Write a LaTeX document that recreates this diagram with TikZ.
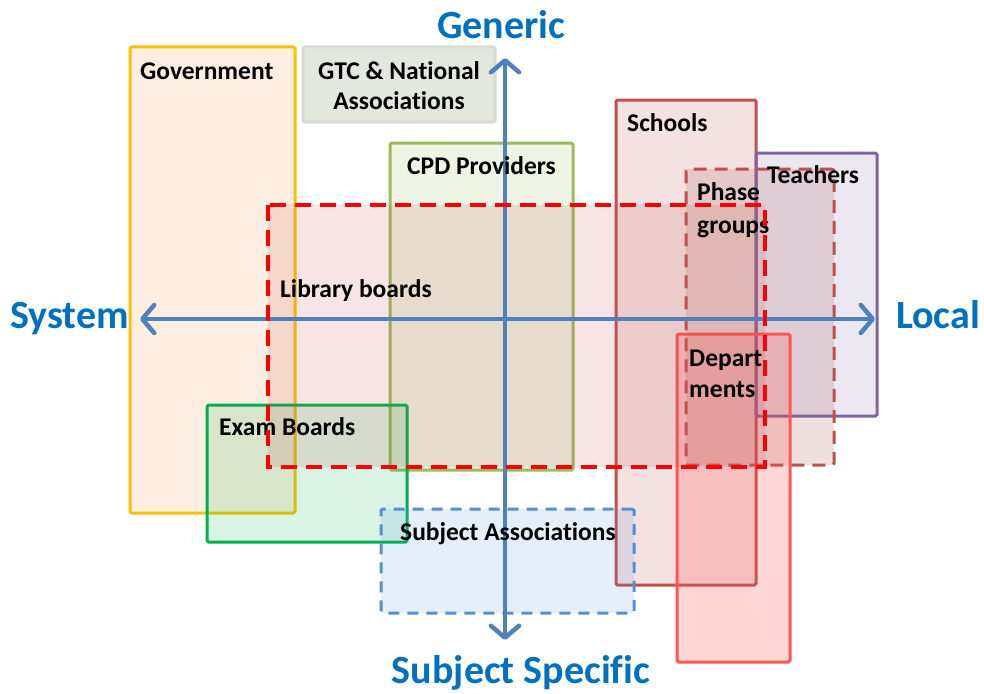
\documentclass[tikz,border=0pt]{standalone}
\usepackage{fontspec}
\setmainfont{Carlito}[Ligatures=NoCommon]
\usetikzlibrary{arrows.meta}
\definecolor{govc}{HTML}{FFC000}
\definecolor{govf}{HTML}{F79646}
\definecolor{gtcf}{HTML}{E3E7DE}
\definecolor{gtcc}{HTML}{D6DCCF}
\definecolor{cpdc}{HTML}{9BBB59}
\definecolor{schc}{HTML}{C0504D}
\definecolor{teac}{HTML}{8064A2}
\definecolor{depc}{HTML}{FF5555}
\definecolor{exac}{HTML}{00B050}
\definecolor{subc}{HTML}{558ED5}
\definecolor{libc}{HTML}{FF0000}
\definecolor{axblue}{HTML}{4F81BD}
\definecolor{axtext}{HTML}{0070C0}
\begin{document}
\begin{tikzpicture}[x=1pt,y=-1pt,
  box/.style={draw, line width=3pt, rounded corners=1.5pt, anchor=north west, inner sep=0pt, outer sep=0pt},
  lbl/.style={anchor=base west, inner sep=0pt, font=\fontsize{25.5}{30}\selectfont\bfseries},
  clbl/.style={anchor=base, inner sep=0pt, font=\fontsize{25.5}{30}\selectfont\bfseries},
  axlbl/.style={anchor=base, inner sep=0pt, text=axtext, font=\fontsize{40}{48}\selectfont\bfseries},
  axisline/.style={draw=axblue, line width=4.5pt, {Straight Barb[round,length=12pt,width=28pt]}-{Straight Barb[round,length=12pt,width=28pt]}},
  libline/.style={draw=libc, line width=3.5pt, dash pattern=on 16pt off 9pt}
]
\useasboundingbox (0,0) rectangle (984,693);
% boxes
\node[box, draw=govc, fill=govf, fill opacity=0.16, minimum width=165pt, minimum height=466pt] (gov) at (130,47) {};
\node[box, draw=gtcc, fill=gtcf, minimum width=192pt, minimum height=75pt] (gtc) at (303,47) {};
\node[box, draw=cpdc, fill=cpdc, fill opacity=0.17, minimum width=183pt, minimum height=327pt] (cpd) at (390,143) {};
\node[box, draw=schc, fill=schc, fill opacity=0.17, minimum width=140pt, minimum height=485pt] (sch) at (616,100) {};
\node[box, draw=teac, fill=teac, fill opacity=0.15, minimum width=121pt, minimum height=263pt] (tea) at (756,153) {};
\node[box, draw=schc, dash pattern=on 13pt off 8pt, fill=schc!60!gray, fill opacity=0.2, minimum width=148pt, minimum height=296pt] (pha) at (686,169) {};
\node[box, draw=depc, fill=depc, fill opacity=0.24, minimum width=113pt, minimum height=328pt] (dep) at (677,334) {};
\node[box, draw=exac, fill=exac, fill opacity=0.15, minimum width=200pt, minimum height=137pt] (exa) at (207,405) {};
\node[box, draw=subc, dash pattern=on 11pt off 8pt, fill=subc, fill opacity=0.15, minimum width=253pt, minimum height=104pt] (sub) at (381,509) {};
\node[box, draw=none, rounded corners=0pt, fill=schc, fill opacity=0.15, minimum width=497pt, minimum height=262pt] (lib) at (268,205) {};
% Axes
\coordinate (xl) at (140,319);
\coordinate (xr) at (875,319);
\coordinate (yt) at (505,58);
\coordinate (yb) at (505,640);
\draw[axisline] (xl) -- (xr);
\draw[axisline] (yt) -- (yb);
% box labels
\node[lbl] (govt) at (140,79) {Government};
\node[clbl] (gtct1) at (399,79) {GTC \& National};
\node[clbl] (gtct2) at (399,109) {Associations};
\node[lbl] (cpdt) at (407,174) {CPD Providers};
\node[lbl] (scht) at (627,131) {Schools};
\node[lbl] (teat) at (767,183) {Teachers};
\node[lbl] (phat1) at (697,200) {Phase};
\node[lbl] (phat2) at (697,233) {groups};
\node[lbl] (dept1) at (689,366) {Depart};
\node[lbl] (dept2) at (689,397) {ments};
\node[lbl] (exat) at (219,435) {Exam Boards};
\node[lbl] (subt) at (400,540) {Subject Associations};
\node[lbl] (libt) at (280,297) {Library boards};
% Library boards border (on top)
\draw[libline] (lib.north west) rectangle (lib.south east);
% Axis labels
\node[axlbl] (gen) at (501,38) {Generic};
\node[axlbl] (sys) at (69.5,328) {System};
\node[axlbl] (loc) at (938,328) {Local};
\node[axlbl] (ssp) at (521,683) {Subject Specific};
\end{tikzpicture}
\end{document}
